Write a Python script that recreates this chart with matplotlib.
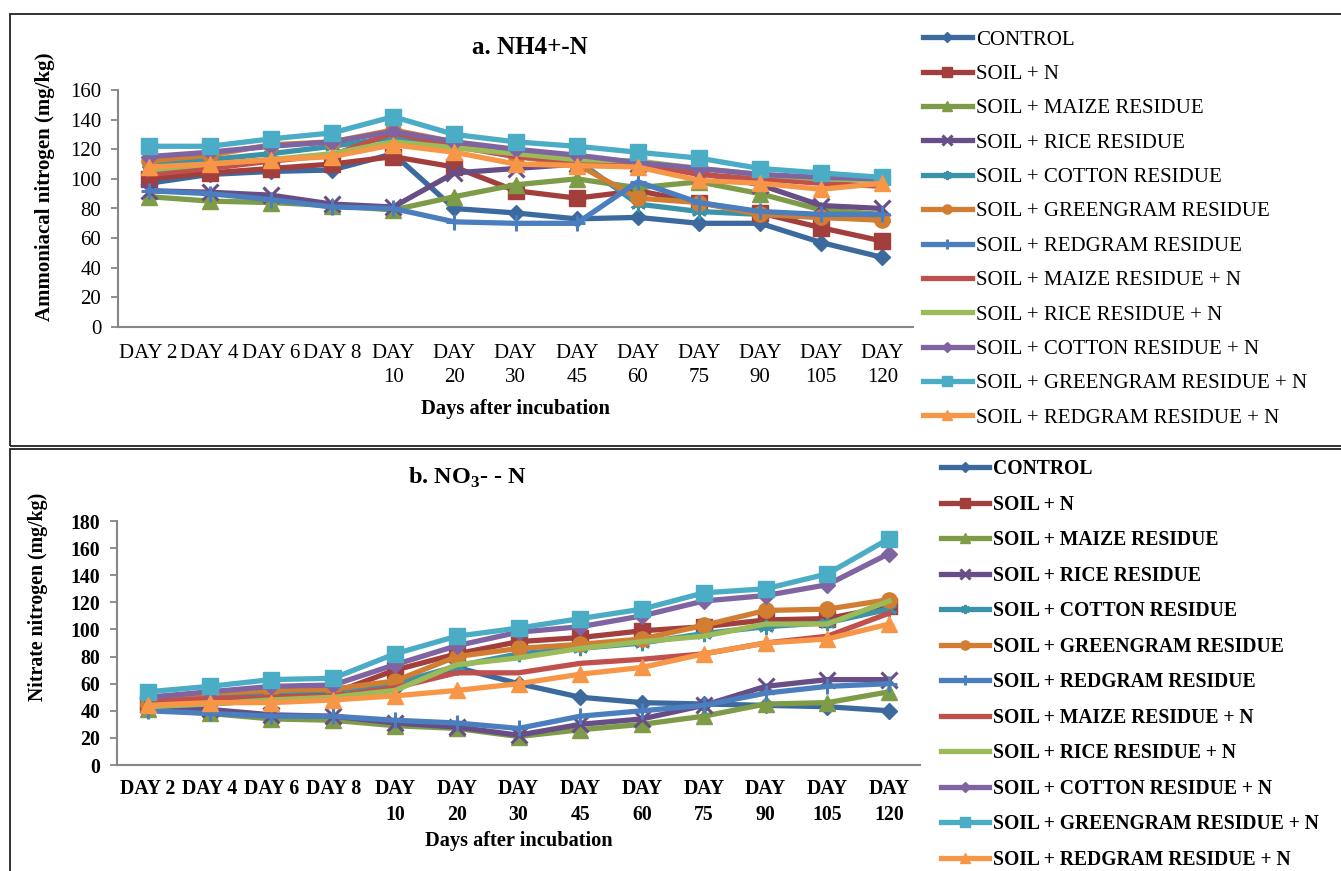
import numpy as np
import matplotlib
matplotlib.use('Agg')
import matplotlib.pyplot as plt
from matplotlib.patches import Rectangle

plt.rcParams['font.family'] = ['Liberation Serif', 'DejaVu Serif']
plt.rcParams['mathtext.fontset'] = 'custom'
plt.rcParams['mathtext.rm'] = 'Liberation Serif'
plt.rcParams['mathtext.bf'] = 'Liberation Serif:bold'

dias = ['DAY 2', 'DAY 4', 'DAY 6', 'DAY 8', 'DAY\n10', 'DAY\n20', 'DAY\n30', 'DAY\n45',
        'DAY\n60', 'DAY\n75', 'DAY\n90', 'DAY\n105', 'DAY\n120']

tratamentos = ['CONTROL', 'SOIL + N', 'SOIL + MAIZE RESIDUE', 'SOIL + RICE RESIDUE',
               'SOIL + COTTON RESIDUE', 'SOIL + GREENGRAM RESIDUE', 'SOIL + REDGRAM RESIDUE',
               'SOIL + MAIZE RESIDUE + N', 'SOIL + RICE RESIDUE + N', 'SOIL + COTTON RESIDUE + N',
               'SOIL + GREENGRAM RESIDUE + N', 'SOIL + REDGRAM RESIDUE + N']

# a. NH4+-N (mg/kg)
nh4_control = [97, 103, 105, 106, 117, 80, 77, 73, 74, 70, 70, 57, 47]
nh4_n = [100, 104, 107, 110, 115, 108, 92, 87, 92, 84, 77, 67, 58]
nh4_maize = [88, 85, 84, 82, 79, 88, 96, 100, 94, 98, 90, 79, 76]
nh4_rice = [92, 91, 89, 83, 81, 104, 107, 110, 110, 104, 96, 82, 80]
nh4_cotton = [110, 113, 117, 122, 128, 122, 118, 113, 83, 78, 76, 74, 73]
nh4_greengram = [112, 116, 123, 125, 133, 125, 115, 110, 87, 84, 76, 74, 72]
nh4_redgram = [92, 90, 86, 81, 80, 71, 70, 70, 98, 84, 78, 76, 76]
nh4_maize_n = [103, 107, 112, 116, 131, 122, 115, 112, 110, 103, 100, 97, 95]
nh4_rice_n = [106, 110, 113, 117, 125, 121, 117, 113, 112, 107, 103, 100, 99]
nh4_cotton_n = [115, 118, 122, 125, 132, 125, 120, 116, 111, 107, 103, 101, 100]
nh4_greengram_n = [122, 122, 127, 131, 142, 130, 125, 122, 118, 114, 107, 104, 101]
nh4_redgram_n = [108, 110, 113, 115, 123, 118, 110, 109, 108, 99, 97, 93, 97]

# b. NO3--N (mg/kg)
no3_control = [41, 45, 48, 50, 57, 72, 60, 50, 46, 45, 44, 43, 40]
no3_n = [46, 50, 52, 53, 70, 82, 91, 94, 99, 102, 107, 108, 117]
no3_maize = [41, 38, 34, 33, 29, 27, 21, 26, 30, 36, 45, 46, 54]
no3_rice = [44, 41, 37, 36, 31, 28, 22, 30, 34, 44, 58, 63, 63]
no3_cotton = [48, 51, 54, 55, 60, 73, 82, 86, 90, 97, 102, 105, 115]
no3_greengram = [45, 53, 55, 56, 62, 80, 86, 89, 93, 103, 114, 115, 122]
no3_redgram = [40, 38, 36, 36, 33, 31, 27, 36, 40, 44, 53, 58, 60]
no3_maize_n = [47, 49, 50, 51, 57, 68, 68, 75, 78, 82, 90, 95, 112]
no3_rice_n = [43, 45, 48, 50, 55, 74, 79, 86, 91, 95, 104, 104, 121]
no3_cotton_n = [50, 54, 58, 59, 74, 88, 98, 102, 110, 121, 125, 133, 156]
no3_greengram_n = [54, 58, 63, 64, 82, 95, 101, 108, 115, 127, 130, 141, 167]
no3_redgram_n = [44, 46, 46, 48, 51, 55, 60, 67, 72, 82, 90, 93, 104]

NH4 = [nh4_control, nh4_n, nh4_maize, nh4_rice, nh4_cotton, nh4_greengram, nh4_redgram,
       nh4_maize_n, nh4_rice_n, nh4_cotton_n, nh4_greengram_n, nh4_redgram_n]
NO3 = [no3_control, no3_n, no3_maize, no3_rice, no3_cotton, no3_greengram, no3_redgram,
       no3_maize_n, no3_rice_n, no3_cotton_n, no3_greengram_n, no3_redgram_n]

cor = ['#3D6A9E', '#A23E3B', '#7E9B47', '#674E86', '#3A93A9', '#D17E33',
       '#4A7EBE', '#C0504D', '#9BBB59', '#8064A2', '#4BACC6', '#F79646']
marcador = ['D', 's', '^', 'x', (6, 2, 0), 'o', '+', 'None', 'None', 'D', 's', '^']
tam = [8, 11, 11, 11, 11, 11, 12, 0, 0, 8, 12, 11]

fig = plt.figure(figsize=(13.41, 8.71), dpi=100)

# bordas dos paineis
fig.patches.append(Rectangle((10/1341, 1-446/871), 1.0, 432/871, transform=fig.transFigure,
                             fill=False, edgecolor='#222222', lw=1.3))
fig.patches.append(Rectangle((10/1341, -0.05), 1.0, 1-449/871+0.05, transform=fig.transFigure,
                             fill=False, edgecolor='#222222', lw=1.3))

ax1 = fig.add_axes([118/1341, 1-327/871, 795/1341, 237/871])
ax2 = fig.add_axes([117/1341, 1-765/871, 803/1341, 244/871])

x = np.arange(len(dias))
for ax, dados in [(ax1, NH4), (ax2, NO3)]:
    for i, y in enumerate(dados):
        ax.plot(x, y, color=cor[i], lw=3.8, marker=marcador[i], markersize=tam[i],
                markeredgewidth=2.2 if marcador[i] in ['x', '+', (6, 2, 0)] else 1,
                markeredgecolor=cor[i], label=tratamentos[i], solid_joinstyle='round')
    ax.set_xlim(-0.5, len(dias) - 0.5)
    ax.set_xticks(x)
    ax.set_xticklabels(dias)
    ax.tick_params(axis='y', length=5, width=1.3, color='#868686', pad=7)
    for s in ['top', 'right']:
        ax.spines[s].set_visible(False)
    for s in ['left', 'bottom']:
        ax.spines[s].set_color('#868686')
        ax.spines[s].set_linewidth(1.5)

ax1.tick_params(axis='both', labelsize=15)
ax1.tick_params(axis='x', length=0, pad=12)
ax2.tick_params(axis='both', labelsize=14.2)
ax2.tick_params(axis='x', length=0, pad=10)
for lab in ax1.get_xticklabels() + ax2.get_xticklabels():
    lab.set_linespacing(1.4)
ax1.set_ylim(0, 160)
ax1.set_yticks(np.arange(0, 161, 20))
ax2.set_ylim(0, 180)
ax2.set_yticks(np.arange(0, 181, 20))
for lab in ax2.get_xticklabels() + ax2.get_yticklabels():
    lab.set_fontweight('bold')

ax1.set_ylabel('Ammoniacal nitrogen (mg/kg)', fontsize=15, fontweight='bold')
ax1.yaxis.set_label_coords(-0.079, 0.59)
ax2.set_ylabel('Nitrate nitrogen (mg/kg)', fontsize=14.3, fontweight='bold')
ax2.yaxis.set_label_coords(-0.086, 0.689)

ax1.set_xlabel('Days after incubation', fontsize=14.8, fontweight='bold')
ax1.xaxis.set_label_coords(0.4994, -0.344)
ax1.xaxis.label.set_va('center')
ax2.set_xlabel('Days after incubation', fontsize=14.7, fontweight='bold')
ax2.xaxis.set_label_coords(0.4999, -0.312)
ax2.xaxis.label.set_va('center')

fig.text(530/1341, 1-47/871, 'a. NH4+-N', ha='center', va='center', fontsize=18, fontweight='bold')
fig.text(467/1341, 1-478/871, r'b. NO$_\mathbf{3}$- - N', ha='center', va='center',
         fontsize=17.5, fontweight='bold')

h1, l1 = ax1.get_legend_handles_labels()
fig.legend(h1, l1, loc='upper left', bbox_to_anchor=(923/1341, 1-30/871), frameon=False,
           borderaxespad=0, borderpad=0, handlelength=2.35, handletextpad=0.2,
           labelspacing=0.71, markerscale=0.6, prop={'size': 15})
h2, l2 = ax2.get_legend_handles_labels()
fig.legend(h2, l2, loc='upper left', bbox_to_anchor=(941/1341, 1-459/871), frameon=False,
           borderaxespad=0, borderpad=0, handlelength=2.45, handletextpad=0.2,
           labelspacing=0.79, markerscale=0.6, prop={'size': 14.15, 'weight': 'bold'})

plt.savefig('out.png', dpi=100)
